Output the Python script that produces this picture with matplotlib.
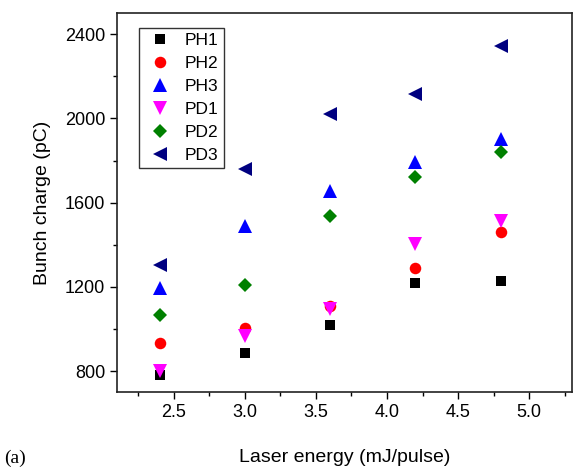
import matplotlib
matplotlib.use("Agg")
import matplotlib.pyplot as plt
from matplotlib.ticker import MultipleLocator

plt.rcParams['font.family'] = ['Liberation Sans', 'DejaVu Sans']

energy = [2.4, 3.0, 3.6, 4.2, 4.8]
ph1 = [781, 884, 1019, 1220, 1228]
ph2 = [934, 1007, 1110, 1289, 1460]
ph3 = [1194, 1487, 1657, 1794, 1901]
pd1 = [800, 966, 1097, 1404, 1515]
pd2 = [1066, 1207, 1535, 1720, 1841]
pd3 = [1305, 1760, 2020, 2115, 2343]

series = [
    ("PH1", ph1, "s", "black", 7.3),
    ("PH2", ph2, "o", "red", 8.3),
    ("PH3", ph3, "^", "blue", 9.5),
    ("PD1", pd1, "v", "magenta", 9.5),
    ("PD2", pd2, "D", "green", 7.3),
    ("PD3", pd3, "<", "navy", 9.5),
]

fig = plt.figure(figsize=(5.73, 4.68), dpi=100)
ax = fig.add_axes([0.204, 0.162, 0.794, 0.810])

for name, vals, mk, col, ms in series:
    ax.plot(energy, vals, linestyle="none", marker=mk, color=col,
            markersize=ms, markeredgewidth=0, label=name)

ax.set_xlim(2.1, 5.3)
ax.set_ylim(700, 2500)
ax.xaxis.set_major_locator(MultipleLocator(0.5))
ax.xaxis.set_minor_locator(MultipleLocator(0.25))
ax.yaxis.set_major_locator(MultipleLocator(400))
ax.yaxis.set_minor_locator(MultipleLocator(200))
ax.tick_params(which="both", direction="out", top=False, right=False,
               labelsize=13, width=1)
ax.tick_params(which="major", length=5)
ax.tick_params(which="minor", length=3)
for sp in ax.spines.values():
    sp.set_linewidth(1.2)
    sp.set_color("#222222")

ax.set_xlabel("Laser energy (mJ/pulse)", fontsize=14, labelpad=20)
ax.set_ylabel("Bunch charge (pC)", fontsize=14, labelpad=10)

leg = ax.legend(loc="upper left", bbox_to_anchor=(0.048, 0.962), fontsize=12.5,
                frameon=True, fancybox=False, edgecolor="black",
                borderpad=0.3, labelspacing=0.45, handletextpad=0.45,
                handlelength=1.9, borderaxespad=0)
leg.get_frame().set_linewidth(1.0)

fig.text(0.008, 0.01, "(a)", fontsize=14, family=["Liberation Serif", "DejaVu Serif"])

fig.savefig("out.png", dpi=100)
